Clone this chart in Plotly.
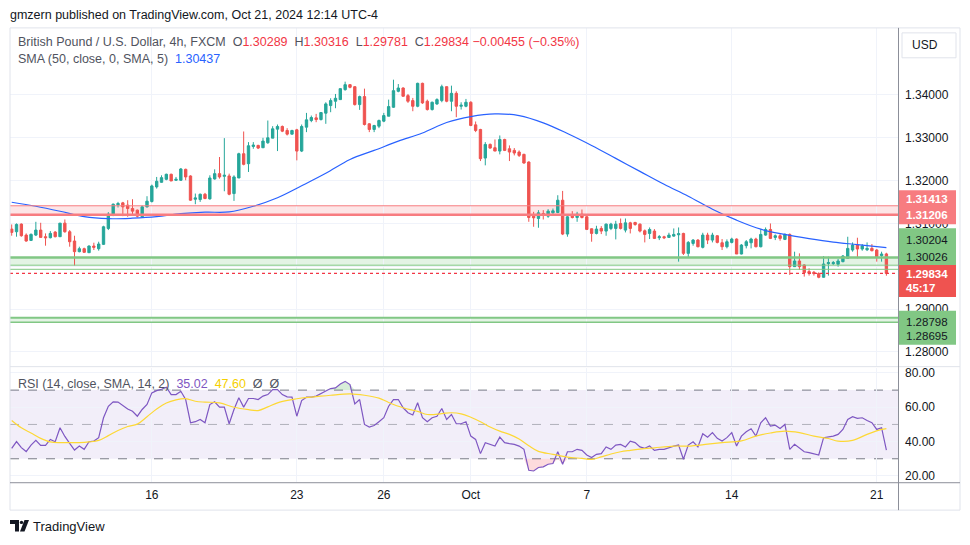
import plotly.graph_objects as go

# ---------------- data ----------------
bar_index = list(range(182))

open_ = [1.30869,1.30807,1.30985,1.30729,1.30605,1.30729,1.30846,1.30691,1.30667,1.30799,
         1.30691,1.31008,1.30807,1.30590,1.30342,1.30411,1.30318,1.30473,1.30411,1.30512,
         1.30884,1.31195,1.31435,1.31481,1.31427,1.31349,1.31311,1.31156,1.31388,1.31512,
         1.31853,1.31961,1.32031,1.32148,1.32008,1.32008,1.32264,1.32109,1.31566,1.31558,
         1.31682,1.31574,1.32039,1.32163,1.32101,1.32109,1.31698,1.32062,1.32628,1.32395,
         1.32798,1.32822,1.32768,1.32884,1.32992,1.33202,1.33264,1.33171,1.33085,1.33186,
         1.32690,1.33248,1.33403,1.33465,1.33426,1.33574,1.33752,1.33853,1.33891,1.34124,
         1.34240,1.34193,1.33775,1.33961,1.33326,1.33194,1.33271,1.33388,1.33504,1.33713,
         1.34085,1.34162,1.33984,1.33868,1.33736,1.34271,1.33853,1.33659,1.33791,1.33868,
         1.34193,1.33853,1.34038,1.33736,1.33736,1.33829,1.33302,1.33194,1.32527,1.32845,
         1.32768,1.32690,1.32961,1.32744,1.32706,1.32667,1.32613,1.32434,1.31171,1.31117,
         1.31233,1.31171,1.31249,1.31256,1.31543,1.30753,1.31171,1.31140,1.31218,1.31156,
         1.30876,1.30768,1.30884,1.30822,1.30884,1.30884,1.31000,1.30845,1.31015,1.31023,
         1.30984,1.30829,1.30767,1.30822,1.30667,1.30690,1.30674,1.30705,1.30736,1.30767,
         1.30302,1.30535,1.30612,1.30442,1.30729,1.30612,1.30713,1.30550,1.30457,1.30558,
         1.30636,1.30287,1.30481,1.30550,1.30636,1.30457,1.30729,1.30860,1.30674,1.30713,
         1.30628,1.30744,1.29992,1.30124,1.30031,1.29876,1.29860,1.29830,1.29744,1.30062,
         1.30062,1.30047,1.30109,1.30186,1.30380,1.30496,1.30403,1.30387,1.30418,1.30380,
         1.30248,1.30289]

high_ = [1.30977,1.31001,1.31001,1.30768,1.30768,1.31039,1.31016,1.30768,1.30822,1.30822,
         1.31008,1.31093,1.30846,1.30714,1.30458,1.30435,1.30489,1.30551,1.30574,1.30946,
         1.31264,1.31465,1.31504,1.31504,1.31543,1.31566,1.31326,1.31419,1.31636,1.31907,
         1.32086,1.32124,1.32163,1.32163,1.32086,1.32295,1.32279,1.32124,1.31698,1.31698,
         1.31713,1.32124,1.32264,1.32551,1.32992,1.32163,1.32124,1.32651,1.33147,1.32899,
         1.32899,1.32837,1.33000,1.33403,1.33271,1.33310,1.33287,1.33225,1.33186,1.33209,
         1.33310,1.33581,1.33519,1.33558,1.33597,1.33829,1.33922,1.34023,1.34155,1.34310,
         1.34255,1.34201,1.33984,1.34147,1.33341,1.33302,1.33426,1.33581,1.33891,1.34356,
         1.34255,1.34178,1.34023,1.33930,1.34286,1.34286,1.33891,1.33845,1.33922,1.34240,
         1.34201,1.34217,1.34085,1.33829,1.33907,1.33853,1.33380,1.33209,1.32899,1.32868,
         1.32961,1.33054,1.32977,1.32822,1.32760,1.32706,1.32628,1.32450,1.31272,1.31311,
         1.31311,1.31334,1.31349,1.31659,1.31760,1.31195,1.31288,1.31272,1.31326,1.31195,
         1.30884,1.30946,1.30938,1.31000,1.31015,1.31062,1.31116,1.31116,1.31039,1.31039,
         1.31000,1.30860,1.30907,1.30868,1.30729,1.30713,1.30783,1.30884,1.30907,1.30783,
         1.30589,1.30636,1.30636,1.30783,1.30783,1.30783,1.30729,1.30636,1.30628,1.30667,
         1.30651,1.30519,1.30612,1.30667,1.30667,1.30868,1.30907,1.31000,1.30744,1.30752,
         1.30767,1.30767,1.30341,1.30302,1.30047,1.29954,1.29891,1.29860,1.30240,1.30225,
         1.30124,1.30171,1.30264,1.30690,1.30558,1.30667,1.30519,1.30558,1.30519,1.30403,
         1.30341,1.30316]

low_ = [1.30714,1.30691,1.30691,1.30574,1.30590,1.30706,1.30675,1.30481,1.30652,1.30675,
        1.30691,1.30784,1.30458,1.30016,1.30326,1.30318,1.30318,1.30380,1.30365,1.30497,
        1.30846,1.31171,1.31373,1.31171,1.31156,1.31210,1.31140,1.31140,1.31373,1.31489,
        1.31814,1.31954,1.32008,1.31992,1.31992,1.31992,1.32008,1.31527,1.31450,1.31504,
        1.31566,1.31558,1.32023,1.32047,1.31752,1.31659,1.31527,1.32062,1.32357,1.32202,
        1.32744,1.32737,1.32760,1.32860,1.32992,1.32690,1.33132,1.33054,1.33078,1.32473,
        1.32667,1.33132,1.33364,1.33364,1.33403,1.33326,1.33597,1.33690,1.33884,1.34100,
        1.34155,1.33752,1.33651,1.33287,1.33132,1.33132,1.33225,1.33364,1.33504,1.33698,
        1.34062,1.33961,1.33814,1.33620,1.33713,1.33791,1.33636,1.33636,1.33767,1.33829,
        1.33829,1.33620,1.33481,1.33659,1.33713,1.33271,1.33132,1.32457,1.32357,1.32744,
        1.32690,1.32613,1.32690,1.32457,1.32589,1.32551,1.32395,1.31039,1.30923,1.30900,
        1.31093,1.31132,1.31225,1.31241,1.30729,1.30691,1.31117,1.31039,1.31117,1.30846,
        1.30574,1.30745,1.30752,1.30713,1.30845,1.30628,1.30860,1.30791,1.30767,1.30946,
        1.30791,1.30558,1.30636,1.30636,1.30612,1.30636,1.30667,1.30690,1.30109,1.30264,
        1.30209,1.30481,1.30442,1.30418,1.30519,1.30558,1.30535,1.30380,1.30418,1.30535,
        1.30287,1.30279,1.30418,1.30418,1.30442,1.30442,1.30713,1.30636,1.30612,1.30597,
        1.30612,1.29799,1.29992,1.29915,1.29760,1.29783,1.29783,1.29721,1.29736,1.29783,
        1.30031,1.29992,1.30093,1.30171,1.30341,1.30186,1.30364,1.30356,1.30349,1.30109,
        1.30109,1.29781]

close_ = [1.30791,1.30977,1.30714,1.30590,1.30745,1.30846,1.30675,1.30667,1.30768,1.30691,
          1.31008,1.30807,1.30574,1.30342,1.30411,1.30326,1.30473,1.30442,1.30520,1.30923,
          1.31218,1.31450,1.31465,1.31388,1.31349,1.31288,1.31171,1.31388,1.31520,1.31876,
          1.31985,1.32070,1.32148,1.31992,1.32031,1.32272,1.32086,1.31543,1.31597,1.31682,
          1.31582,1.32062,1.32163,1.32086,1.32124,1.31682,1.32086,1.32628,1.32380,1.32814,
          1.32830,1.32760,1.32923,1.33000,1.33209,1.33264,1.33155,1.33085,1.33171,1.32690,
          1.33264,1.33419,1.33473,1.33426,1.33589,1.33791,1.33868,1.33922,1.34147,1.34240,
          1.34178,1.33775,1.33961,1.33310,1.33194,1.33287,1.33403,1.33519,1.33729,1.34100,
          1.34162,1.33969,1.33853,1.33736,1.34271,1.33814,1.33659,1.33829,1.33891,1.34193,
          1.33853,1.34038,1.33736,1.33760,1.33829,1.33287,1.33171,1.32512,1.32845,1.32760,
          1.32690,1.32961,1.32706,1.32667,1.32644,1.32589,1.32411,1.31140,1.31132,1.31249,
          1.31202,1.31288,1.31295,1.31543,1.30753,1.31156,1.31140,1.31218,1.31140,1.30861,
          1.30768,1.30869,1.30822,1.30984,1.30984,1.30984,1.30884,1.31015,1.30884,1.30976,
          1.30822,1.30744,1.30860,1.30651,1.30690,1.30667,1.30729,1.30744,1.30760,1.30302,
          1.30558,1.30612,1.30457,1.30729,1.30612,1.30729,1.30558,1.30457,1.30574,1.30636,
          1.30287,1.30496,1.30574,1.30636,1.30457,1.30744,1.30860,1.30651,1.30713,1.30651,
          1.30744,1.29992,1.30124,1.29992,1.29853,1.29837,1.29830,1.29744,1.30054,1.30086,
          1.30086,1.30124,1.30240,1.30418,1.30496,1.30403,1.30473,1.30418,1.30364,1.30225,
          1.30287,1.29834]

sma_idx = [0, 5, 10, 15, 20, 25, 30, 35, 40, 45, 50, 55, 60, 65, 70, 75, 80, 85, 90, 95,
           100, 105, 110, 115, 120, 125, 130, 135, 140, 145, 150, 155, 160, 165, 170, 175, 181]
sma_val = [1.31495, 1.31402, 1.31286, 1.31158, 1.31112, 1.31123, 1.31158, 1.31228, 1.31263,
           1.31270, 1.31402, 1.31600, 1.31879, 1.32170, 1.32495, 1.32705, 1.32921, 1.33112,
           1.33356, 1.33495, 1.33558, 1.33519, 1.33349, 1.33100, 1.32821, 1.32519, 1.32216,
           1.31914, 1.31635, 1.31333, 1.31077, 1.30867, 1.30744, 1.30647, 1.30565, 1.30507,
           1.30437]

rsi_val = [36.1,40.0,36.5,34.2,38.0,40.7,37.8,37.8,41.3,39.9,
           48.1,43.0,39.0,35.1,37.4,35.5,39.9,40.3,42.3,53.9,
           60.6,63.2,63.0,61.0,59.0,57.7,54.8,58.7,61.6,68.4,
           69.7,70.5,71.7,67.4,67.4,69.3,64.5,51.0,51.6,52.9,
           51.0,61.6,63.2,60.1,60.1,50.4,58.7,65.5,60.1,65.1,
           65.1,64.5,66.5,67.4,70.3,70.3,67.4,66.1,65.9,54.8,
           63.9,65.9,65.9,66.5,67.8,69.5,70.9,71.3,73.6,75.1,
           73.2,62.0,64.5,50.0,48.5,49.4,51.6,53.9,60.6,64.5,
           64.5,59.7,56.8,55.5,62.6,53.9,51.6,53.9,54.8,59.3,
           52.9,55.8,50.4,50.4,51.6,43.2,41.3,33.0,39.4,38.4,
           37.4,42.6,39.4,38.8,38.4,37.4,35.5,23.3,22.9,24.9,
           25.3,26.8,27.2,34.1,26.8,34.1,34.1,35.5,34.9,32.2,
           30.7,32.6,33.0,36.9,35.5,38.0,38.4,36.9,40.3,39.4,
           36.9,36.1,37.4,34.9,35.5,35.5,36.5,37.4,38.0,29.7,
           38.0,39.9,36.9,44.6,42.6,45.2,41.9,40.3,42.3,45.2,
           37.4,43.2,45.7,47.5,43.2,51.0,53.9,49.1,49.6,47.7,
           50.0,35.5,38.4,36.5,34.1,33.6,33.0,32.2,42.3,42.6,
           43.2,44.2,47.1,52.9,54.5,53.5,53.9,52.3,51.0,47.1,
           48.1,35.02]

rsi_sma_idx = [0, 2, 4, 6, 8, 10, 12, 14, 16, 18, 20, 22, 24, 26, 28, 30, 32, 34, 36, 38, 40,
               43, 46, 49, 51, 53, 55, 58, 60, 63, 66, 70, 73, 76, 78, 81, 84, 86, 89, 91, 93,
               95, 97, 99, 101, 103, 105, 107, 109, 112, 115, 118, 120, 122, 124, 126, 128,
               130, 133, 137, 140, 144, 147, 151, 154, 157, 160, 163, 166, 169, 171, 174, 177,
               180, 181]
rsi_sma_val = [52.3, 48.0, 45.0, 41.9, 39.8, 39.4, 39.4, 39.4, 39.8, 40.7, 43.5, 46.5, 48.8,
               50.2, 54.5, 59.0, 62.5, 64.3, 65.0, 63.5, 63.0, 62.6, 60.0, 58.6, 58.1, 60.2,
               62.6, 64.5, 65.4, 66.2, 67.0, 67.8, 67.0, 65.3, 62.8, 59.7, 57.6, 55.8, 56.3,
               56.8, 56.2, 54.2, 51.6, 48.5, 46.1, 44.2, 41.5, 37.6, 34.3, 32.6, 31.0, 30.2,
               29.6, 31.1, 32.8, 34.1, 34.9, 35.6, 36.4, 37.4, 37.4, 38.5, 39.4, 40.4, 43.2,
               45.0, 46.1, 45.2, 43.2, 41.8, 40.3, 40.7, 44.2, 47.1, 47.6]

date_tick_idx = [29, 59, 77, 95, 119, 149, 179]
date_tick_text = ["16", "23", "26", "Oct", "7", "14", "21"]

price_ticks = [1.28, 1.29, 1.30, 1.31, 1.32, 1.33, 1.34]
hidden_price_ticks = [1.30]          # covered by the price badges in the reference
rsi_ticks = [20, 40, 60, 80]
rsi_levels = [30, 50, 70]

resistance_zone = [1.31206, 1.31413]
support_zone = [1.30026, 1.30204]
support_extra = 1.29930
support_low_zone = [1.28695, 1.28798]

last_ohlc = [1.30289, 1.30316, 1.29781, 1.29834]
last_change = -0.00455
last_change_pct = -0.35
sma_last = 1.30437
rsi_last = 35.02
rsi_sma_last = 47.60
countdown = "45:17"

# ---------------- styling / layout helpers ----------------
W, H = 970, 545
FONT = "Liberation Sans, Arial, sans-serif"
UP, DN = "#26a69a", "#ef5350"
RED_TXT = "#f23645"
GRID = "#f0f3fa"
BORDER = "#e0e3eb"
AXISLINE = "#8c8f99"
TXT = "#131722"
GREY_TXT = "#50535e"


def px(x):
    return x / W


def py(y):
    return 1 - y / H


def path(points, close=True):
    s = "M " + " L ".join(f"{px(x):.5f},{py(y):.5f}" for x, y in points)
    return s + (" Z" if close else "")


PLOT_L, PLOT_R = 10, 898
MAIN_T, MAIN_B = 27, 366
RSI_T, RSI_B = 368, 483

fig = go.Figure()

# candles
fig.add_trace(go.Candlestick(
    x=bar_index, open=open_, high=high_, low=low_, close=close_,
    increasing=dict(line=dict(color=UP, width=1), fillcolor=UP),
    decreasing=dict(line=dict(color=DN, width=1), fillcolor=DN),
    whiskerwidth=0, xaxis="x", yaxis="y", showlegend=False, hoverinfo="skip"))

# SMA 50
fig.add_trace(go.Scatter(x=sma_idx, y=sma_val, mode="lines",
                         line=dict(color="#2962ff", width=1.2, shape="spline"),
                         xaxis="x", yaxis="y", showlegend=False, hoverinfo="skip"))

# RSI over/under fills
ob = [max(v, 70) for v in rsi_val]
os_ = [min(v, 30) for v in rsi_val]
fig.add_trace(go.Scatter(x=bar_index, y=[70] * len(bar_index), mode="lines", line=dict(width=0),
                         xaxis="x2", yaxis="y2", showlegend=False, hoverinfo="skip"))
fig.add_trace(go.Scatter(x=bar_index, y=ob, mode="lines", line=dict(width=0), fill="tonexty",
                         fillcolor="rgba(76,175,80,0.22)", xaxis="x2", yaxis="y2",
                         showlegend=False, hoverinfo="skip"))
fig.add_trace(go.Scatter(x=bar_index, y=[30] * len(bar_index), mode="lines", line=dict(width=0),
                         xaxis="x2", yaxis="y2", showlegend=False, hoverinfo="skip"))
fig.add_trace(go.Scatter(x=bar_index, y=os_, mode="lines", line=dict(width=0), fill="tonexty",
                         fillcolor="rgba(242,54,69,0.18)", xaxis="x2", yaxis="y2",
                         showlegend=False, hoverinfo="skip"))

# RSI and its SMA
fig.add_trace(go.Scatter(x=bar_index, y=rsi_val, mode="lines",
                         line=dict(color="#7e57c2", width=1.2),
                         xaxis="x2", yaxis="y2", showlegend=False, hoverinfo="skip"))
fig.add_trace(go.Scatter(x=rsi_sma_idx, y=rsi_sma_val, mode="lines",
                         line=dict(color="#fdd835", width=1.2, shape="spline"),
                         xaxis="x2", yaxis="y2", showlegend=False, hoverinfo="skip"))

shapes = []
x0p, x1p = px(PLOT_L), px(PLOT_R)

# RSI background band and level lines
shapes.append(dict(type="rect", xref="paper", yref="y2", x0=x0p, x1=x1p, y0=30, y1=70,
                   fillcolor="rgba(126,87,194,0.10)", line=dict(width=0), layer="below"))
for lv in rsi_levels:
    col = "rgba(120,123,134,0.55)" if lv == 50 else "#787b86"
    shapes.append(dict(type="line", xref="paper", yref="y2", x0=x0p, x1=x1p, y0=lv, y1=lv,
                       line=dict(color=col, width=1, dash="dash"), layer="below"))


def zone(lo, hi, fill, col, w_hi, w_lo):
    shapes.append(dict(type="rect", xref="paper", yref="y", x0=x0p, x1=x1p, y0=lo, y1=hi,
                       fillcolor=fill, line=dict(width=0), layer="below"))
    shapes.append(dict(type="line", xref="paper", yref="y", x0=x0p, x1=x1p, y0=hi, y1=hi,
                       line=dict(color=col, width=w_hi)))
    shapes.append(dict(type="line", xref="paper", yref="y", x0=x0p, x1=x1p, y0=lo, y1=lo,
                       line=dict(color=col, width=w_lo)))


zone(resistance_zone[0], resistance_zone[1], "rgba(247,124,128,0.20)", "#f77c80", 1, 2.5)
zone(support_zone[0], support_zone[1], "rgba(129,199,132,0.22)", "#81c784", 2.5, 1)
shapes.append(dict(type="line", xref="paper", yref="y", x0=x0p, x1=x1p, y0=support_extra,
                   y1=support_extra, line=dict(color="#81c784", width=1)))
zone(support_low_zone[0], support_low_zone[1], "rgba(129,199,132,0.22)", "#81c784", 2, 1.5)

# current price dotted line
shapes.append(dict(type="line", xref="paper", yref="y", x0=x0p, x1=x1p, y0=last_ohlc[3],
                   y1=last_ohlc[3], line=dict(color=RED_TXT, width=1.4, dash="dot")))

# frame, separators
shapes.append(dict(type="rect", xref="paper", yref="paper", x0=px(10), x1=px(960),
                   y0=py(511), y1=py(27), line=dict(color=BORDER, width=1)))
shapes.append(dict(type="line", xref="paper", yref="paper", x0=px(10), x1=px(960),
                   y0=py(367), y1=py(367), line=dict(color=BORDER, width=1)))
shapes.append(dict(type="line", xref="paper", yref="paper", x0=px(10), x1=px(960),
                   y0=py(483.5), y1=py(483.5), line=dict(color=AXISLINE, width=1)))
shapes.append(dict(type="line", xref="paper", yref="paper", x0=px(898.5), x1=px(898.5),
                   y0=py(27), y1=py(511), line=dict(color=AXISLINE, width=1)))

# USD button
shapes.append(dict(type="rect", xref="paper", yref="paper", x0=px(902), x1=px(956),
                   y0=py(57), y1=py(32), line=dict(color=BORDER, width=1), fillcolor="white"))

# price badges
badges = [
    (190, 224, "#f77c80", "white", [(198.5, f"{resistance_zone[1]:.5f}"), (215, f"{resistance_zone[0]:.5f}")]),
    (228, 265, "#81c784", TXT, [(239.5, f"{support_zone[1]:.5f}"), (256.5, f"{support_zone[0]:.5f}")]),
    (265, 297, "#ef5350", "white", [(274.5, f"{last_ohlc[3]:.5f}"), (288.5, countdown)]),
    (311, 345, "#81c784", TXT, [(322, f"{support_low_zone[1]:.5f}"), (336, f"{support_low_zone[0]:.5f}")]),
]
annotations = []
for y0, y1, bg, fg, rows in badges:
    shapes.append(dict(type="rect", xref="paper", yref="paper", x0=px(899), x1=px(956),
                       y0=py(y1), y1=py(y0), fillcolor=bg, line=dict(width=0), layer="above"))
    for yy, t in rows:
        txt = f"<b>{t}</b>" if fg == "white" else t
        annotations.append(dict(xref="paper", yref="paper", x=px(905), y=py(yy), text=txt,
                                showarrow=False, xanchor="left", yanchor="middle", borderpad=0,
                                font=dict(size=11.5, color=fg, family=FONT)))

# TradingView logo (simple shapes)
shapes.append(dict(type="path", xref="paper", yref="paper",
                   path=path([(10, 521), (19, 521), (19, 532.5), (15, 532.5), (15, 525), (10, 525)]),
                   fillcolor=TXT, line=dict(width=0)))
shapes.append(dict(type="circle", xref="paper", yref="paper", x0=px(19.8), x1=px(23.2),
                   y0=py(525), y1=py(521.6), fillcolor=TXT, line=dict(width=0)))
shapes.append(dict(type="path", xref="paper", yref="paper",
                   path=path([(24.5, 521), (29, 521), (24.5, 532.5), (20, 532.5)]),
                   fillcolor=TXT, line=dict(width=0)))

nb = "\u00a0"


def red(v):
    return f"<span style='color:{RED_TXT}'>{v}</span>"


o, h, l, c = last_ohlc
chg = f"{last_change:.5f}".replace("-", "\u2212")
pct = f"{last_change_pct:.2f}".replace("-", "\u2212")
legend1 = (f"British Pound / U.S. Dollar, 4h, FXCM{nb}{nb}O{red(f'{o:.5f}')}{nb}{nb}"
           f"H{red(f'{h:.5f}')}{nb}{nb}L{red(f'{l:.5f}')}{nb}{nb}C{red(f'{c:.5f}')}{nb}"
           f"{red(f'{chg} ({pct}%)')}")
legend2 = f"SMA (50, close, 0, SMA, 5){nb}{nb}<span style='color:#2962ff'>{sma_last:.5f}</span>"
legend3 = (f"RSI (14, close, SMA, 14, 2){nb}{nb}<span style='color:#7e57c2'>{rsi_last:.2f}</span>"
           f"{nb}{nb}<span style='color:#f5d000'>{rsi_sma_last:.2f}</span>{nb}{nb}\u00d8{nb}{nb}\u00d8")

for x, y, t, sz, col in [
    (8, 14, "gmzern published on TradingView.com, Oct 21, 2024 12:14 UTC-4", 12.5, TXT),
    (16, 41, legend1, 12.5, GREY_TXT),
    (16, 58, legend2, 12.5, GREY_TXT),
    (16, 384, legend3, 12.5, GREY_TXT),
    (910, 44.5, "USD", 12, TXT),
    (31, 527, "TradingView", 13, TXT),
]:
    annotations.append(dict(xref="paper", yref="paper", x=px(x), y=py(y), text=t,
                            showarrow=False, xanchor="left", yanchor="middle",
                            font=dict(size=sz, color=col, family=FONT)))

x_range = [-0.35, 183.4]
fig.update_layout(
    width=W, height=H, margin=dict(l=0, r=0, t=0, b=0),
    paper_bgcolor="white", plot_bgcolor="white", showlegend=False,
    font=dict(family=FONT, size=12, color=TXT),
    xaxis=dict(domain=[x0p, x1p], range=x_range, anchor="y", tickvals=date_tick_idx,
               showticklabels=False, showgrid=True, gridcolor=GRID, zeroline=False,
               rangeslider=dict(visible=False), ticks="", showline=False),
    xaxis2=dict(domain=[x0p, x1p], range=x_range, matches="x", anchor="y2",
                tickvals=date_tick_idx, ticktext=date_tick_text, showgrid=True,
                gridcolor=GRID, zeroline=False, ticks="", showline=False,
                ticklabelstandoff=4, tickfont=dict(size=12, color=TXT)),
    yaxis=dict(domain=[py(MAIN_B), py(MAIN_T)], range=[1.27681, 1.35565], side="right",
               anchor="x", tickvals=price_ticks,
               ticktext=["" if v in hidden_price_ticks else f"{v:.5f}" for v in price_ticks],
               showgrid=True, gridcolor=GRID, zeroline=False, ticks="", showline=False,
               ticklabelstandoff=6, tickfont=dict(size=12, color=TXT)),
    yaxis2=dict(domain=[py(RSI_B), py(RSI_T)], range=[16.34, 83.08], side="right",
                anchor="x2", tickvals=rsi_ticks, ticktext=[f"{v:.2f}" for v in rsi_ticks],
                showgrid=True, gridcolor=GRID, zeroline=False, ticks="", showline=False,
                ticklabelstandoff=6, tickfont=dict(size=12, color=TXT)),
    shapes=shapes, annotations=annotations,
)

fig.write_html("out.html", config={"displayModeBar": False, "staticPlot": True},
               post_script="document.body.style.margin='0';document.body.style.padding='0';")
